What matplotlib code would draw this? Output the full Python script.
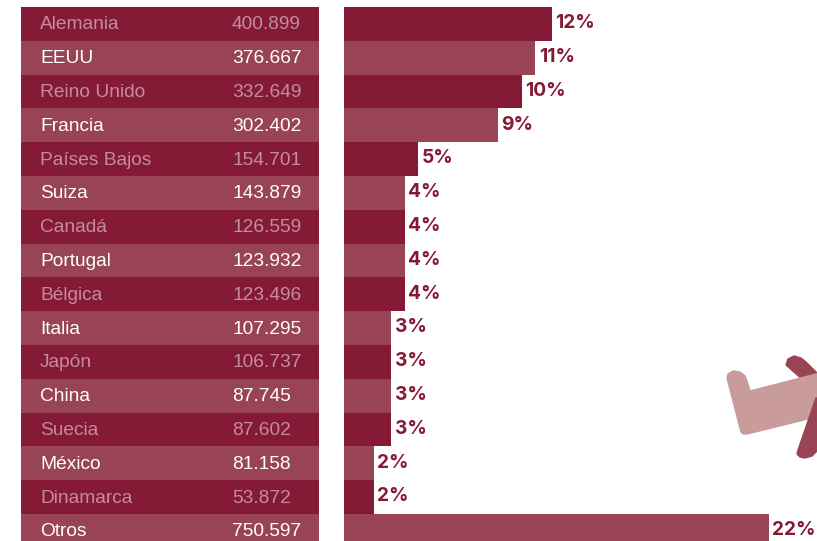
import matplotlib
matplotlib.use("Agg")
import matplotlib.pyplot as plt
from matplotlib.patches import Polygon

W, H = 817, 541
DARK = "#841a36"
LIGHT = "#984454"
MUTED = "#c48d9b"
PALE = "#c99b9b"

countries = ["Alemania", "EEUU", "Reino Unido", "Francia", "Países Bajos", "Suiza",
             "Canadá", "Portugal", "Bélgica", "Italia", "Japón", "China", "Suecia",
             "México", "Dinamarca", "Otros"]
values = ["400.899", "376.667", "332.649", "302.402", "154.701", "143.879",
          "126.559", "123.932", "123.496", "107.295", "106.737", "87.745", "87.602",
          "81.158", "53.872", "750.597"]
# longitud de las barras (no es proporcional a la etiqueta)
bar_share = [10.75, 9.9, 9.2, 7.95, 3.85, 3.15, 3.15, 3.15, 3.15, 2.45, 2.45, 2.45, 2.45, 1.55, 1.55, 22.0]
share_labels = ["12%", "11%", "10%", "9%", "5%", "4%", "4%", "4%", "4%", "3%", "3%", "3%", "3%",
                "2%", "2%", "22%"]

# marca decorativa (avion) en pixeles de la figura, recortada por el borde
plane_body = [(727, 378), (728, 374), (733, 371), (740, 372), (745, 376), (747, 381), (750, 391),
              (820, 373), (820, 416), (747, 434), (743, 434), (741, 432)]
plane_wing_top = [(786, 365), (788, 359), (794, 356), (801, 358), (806, 362), (820, 376), (812, 388)]
plane_wing_low = [(798, 450), (797, 454), (800, 457), (805, 458), (812, 456), (820, 448), (820, 398), (816, 398)]

fig = plt.figure(figsize=(W / 100, H / 100), dpi=100, facecolor="white")


def px_axes(x0, x1, y0=7, y1=541):
    return fig.add_axes([x0 / W, 1 - y1 / H, (x1 - x0) / W, (y1 - y0) / H])


row_h = 33.8
n = len(countries)
ylim = (-0.5 + (541 - 7) / row_h, -0.5)
rows = range(n)
row_colors = [DARK if i % 2 == 0 else LIGHT for i in rows]
text_colors = [MUTED if i % 2 == 0 else "white" for i in rows]

# tabla
ax_t = px_axes(21, 319)
ax_t.barh(rows, [1] * n, height=1.0, left=0, color=row_colors, linewidth=0)
ax_t.set_xlim(0, 1)
ax_t.set_ylim(*ylim)
ax_t.axis("off")
for i in rows:
    ax_t.text(19 / 298, i + 0.03, countries[i], color=text_colors[i], fontsize=13.8,
              family="Liberation Sans", va="center", clip_on=True)
    ax_t.text(211 / 298, i + 0.03, values[i], color=text_colors[i], fontsize=13.8,
              family="Liberation Sans", va="center", clip_on=True)

# barras
ax_b = px_axes(344, 817)
ax_b.barh(rows, bar_share, height=1.0, color=row_colors, linewidth=0)
ax_b.set_xlim(0, 22 * 473 / 425)
ax_b.set_ylim(*ylim)
ax_b.axis("off")
for i in rows:
    ax_b.annotate(share_labels[i], (bar_share[i], i - 0.02), xytext=(2.5, 0), textcoords="offset points",
                  color=DARK, fontsize=13.8, fontweight="bold", family="Inter",
                  va="center", annotation_clip=False)

# avion
ax_p = fig.add_axes([0, 0, 1, 1], facecolor="none")
ax_p.set_xlim(0, W)
ax_p.set_ylim(H, 0)
ax_p.axis("off")
ax_p.add_patch(Polygon(plane_wing_top, closed=True, facecolor=LIGHT, edgecolor=LIGHT, lw=1, joinstyle="round"))
ax_p.add_patch(Polygon(plane_body, closed=True, facecolor=PALE, edgecolor=PALE, lw=1, joinstyle="round"))
ax_p.add_patch(Polygon(plane_wing_low, closed=True, facecolor=LIGHT, edgecolor=LIGHT, lw=1, joinstyle="round"))

fig.savefig("out.png", dpi=100, facecolor="white")
